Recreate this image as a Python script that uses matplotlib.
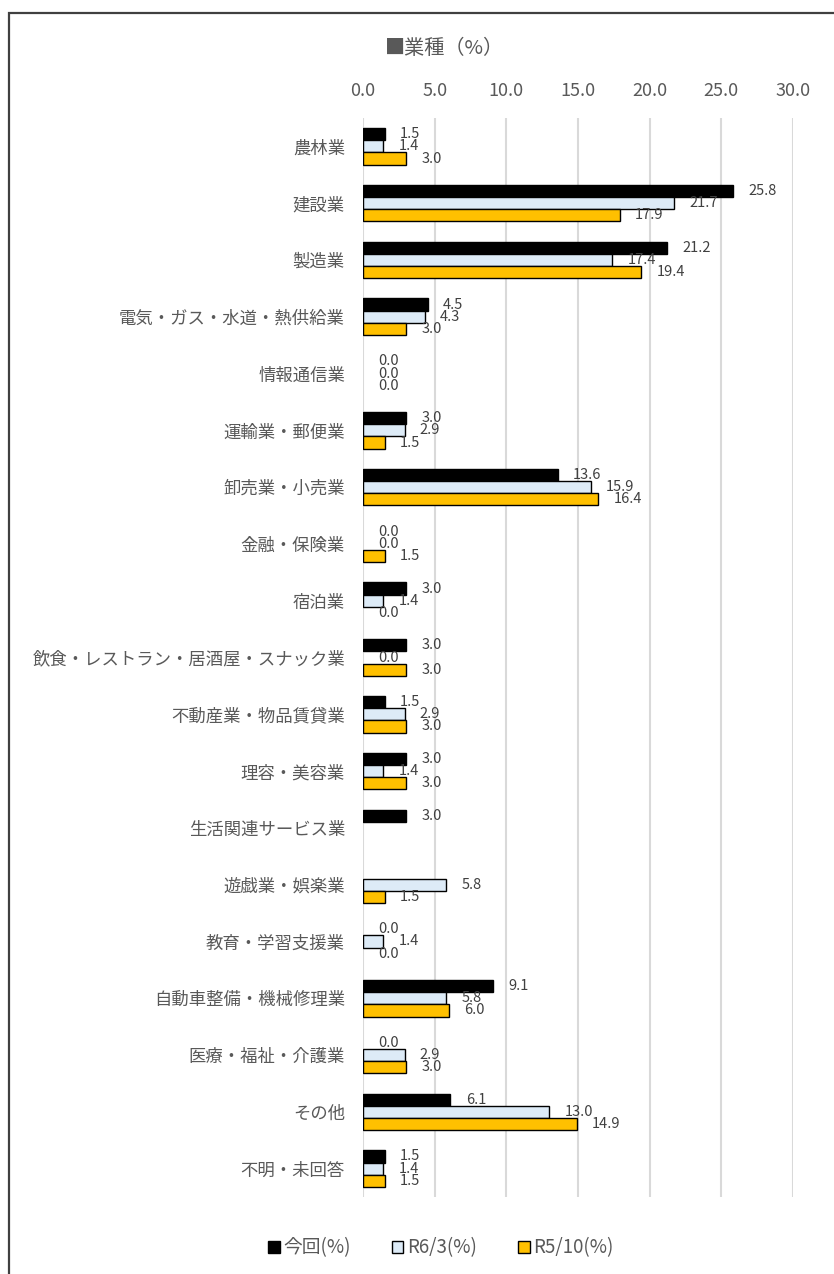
import numpy as np
import matplotlib
matplotlib.use("Agg")
import matplotlib.pyplot as plt
from matplotlib.patches import Rectangle

plt.rcParams["font.family"] = ["Noto Sans CJK JP", "DejaVu Sans"]

categories = [
    "農林業", "建設業", "製造業", "電気・ガス・水道・熱供給業", "情報通信業",
    "運輸業・郵便業", "卸売業・小売業", "金融・保険業", "宿泊業",
    "飲食・レストラン・居酒屋・スナック業", "不動産業・物品賃貸業", "理容・美容業",
    "生活関連サービス業", "遊戯業・娯楽業", "教育・学習支援業",
    "自動車整備・機械修理業", "医療・福祉・介護業", "その他", "不明・未回答",
]
nan = np.nan
current = [1.5, 25.8, 21.2, 4.5, 0.0, 3.0, 13.6, 0.0, 3.0, 3.0, 1.5, 3.0, 3.0, nan, 0.0, 9.1, 0.0, 6.1, 1.5]
r6_3 = [1.4, 21.7, 17.4, 4.3, 0.0, 2.9, 15.9, 0.0, 1.4, 0.0, 2.9, 1.4, nan, 5.8, 1.4, 5.8, 2.9, 13.0, 1.4]
r5_10 = [3.0, 17.9, 19.4, 3.0, 0.0, 1.5, 16.4, 1.5, 0.0, 3.0, 3.0, 3.0, nan, 1.5, 0.0, 6.0, 3.0, 14.9, 1.5]

series = [
    ("今回(%)", current, "#000000"),
    ("R6/3(%)", r6_3, "#DDEBF7"),
    ("R5/10(%)", r5_10, "#FFC000"),
]
xticks = [0, 5, 10, 15, 20, 25, 30]

W, H = 834, 1274
fig = plt.figure(figsize=(W / 100, H / 100), dpi=100)
ax = fig.add_axes([363 / W, 1 - 1197 / H, (793 - 363) / W, (1197 - 118) / H])

y = np.arange(len(categories))
h = 0.215
for k, (name, vals, col) in enumerate(series):
    vals = np.array(vals, dtype=float)
    pos = y + (k - 1) * h
    ok = ~np.isnan(vals)
    # zero-length bars would leave a stray edge line, so only draw positive ones
    drawn = ok & (np.nan_to_num(vals) > 0)
    ax.barh(pos[drawn], vals[drawn], height=h, color=col, edgecolor="#000000",
            linewidth=1.0, label=name, zorder=3)
    for p, v in zip(pos[ok], vals[ok]):
        ax.annotate(f"{v:.1f}", (v, p), xytext=(11, 0), textcoords="offset points",
                    ha="left", va="center", fontsize=10.5, color="#404040", zorder=4)

ax.set_xlim(0, 30)
ax.set_ylim(len(categories) - 0.5, -0.5)
ax.set_xticks(xticks)
ax.set_xticklabels([f"{t:.1f}" for t in xticks])
ax.xaxis.tick_top()
ax.tick_params(axis="x", length=0, pad=13, labelsize=13, labelcolor="#595959")
ax.set_yticks(y)
ax.set_yticklabels(categories)
ax.tick_params(axis="y", length=0, pad=13, labelsize=12.5, labelcolor="#595959")
ax.grid(axis="x", color="#D9D9D9", linewidth=1.5, zorder=0)
for s in ax.spines.values():
    s.set_visible(False)

fig.text(445 / W, 1 - 48 / H, "■業種（%）", ha="center", va="center",
         fontsize=14.5, color="#595959")

leg = fig.legend(loc="center", bbox_to_anchor=(441 / W, 1 - 1248 / H), ncol=3,
                 frameon=False, fontsize=13.5, handlelength=0.6, handleheight=0.6,
                 handletextpad=0.2, columnspacing=2.2)
for t in leg.get_texts():
    t.set_color("#595959")

# outer frame, only the top and left edges fall inside the canvas
fig.patches.append(Rectangle((8.5 / W, -0.2), 1.5, 1.2 - 12.5 / H,
                             transform=fig.transFigure, fill=False,
                             edgecolor="#404040", linewidth=1.6, clip_on=False))

fig.savefig("out.png", dpi=100)
